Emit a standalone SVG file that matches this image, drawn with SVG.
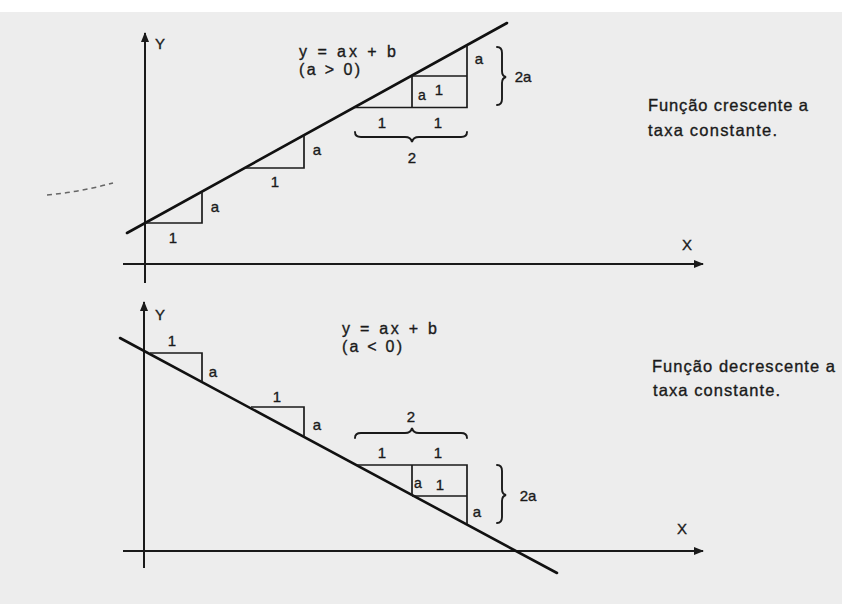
<svg xmlns="http://www.w3.org/2000/svg" width="842" height="604" viewBox="0 0 842 604">
<style>
.ax{stroke:#1a1a1a;stroke-width:2;fill:none}
.ln{stroke:#111;stroke-width:2.6;fill:none;stroke-linecap:round}
.tr{stroke:#1a1a1a;stroke-width:1.7;fill:none}
.br{stroke:#1a1a1a;stroke-width:1.9;fill:none;stroke-linecap:round}
text{font-family:"Liberation Sans",Arial,sans-serif;fill:#1a1a1a;stroke:#1a1a1a;stroke-width:0.35}
.lb{font-size:15px;text-anchor:middle}
.sm{font-size:14px;text-anchor:middle}
.eq{font-size:16px}
.cap{font-size:16.5px}
</style>
<defs>
<marker id="ah" viewBox="0 0 10 10" refX="9" refY="5" markerWidth="5" markerHeight="5" orient="auto" markerUnits="strokeWidth">
<path d="M0,1 L10,5 L0,9 Z" fill="#1a1a1a"/>
</marker>
</defs>
<rect x="0" y="0" width="842" height="604" fill="#ededed"/>
<rect x="0" y="0" width="842" height="12" fill="#ffffff"/>

<g id="top-graph">
  <path d="M47,195 Q80,192 113,183" stroke="#666" stroke-width="1.5" fill="none" stroke-dasharray="5 4"/>
  <line class="ax" x1="145" y1="283" x2="145" y2="33" marker-end="url(#ah)"/>
  <line class="ax" x1="123" y1="264" x2="703" y2="264" marker-end="url(#ah)"/>
  <line class="ln" x1="127" y1="233" x2="507" y2="23"/>
  <path class="tr" d="M145,223 H202 V192"/>
  <path class="tr" d="M245,168 H304 V135"/>
  <path class="tr" d="M355,107.5 H467 V45 M412,107.5 V76 M412,76 H467"/>
  <path class="br" d="M355,132 q0,5 6,5 h44 q6,0 7,5 q1,-5 7,-5 h42 q6,0 6,-5"/>
  <path class="br" d="M497,47 q5,0 5,6 v18 q0,5 4,6 q-4,1 -4,6 v16 q0,6 -5,6"/>
  <text class="lb" x="160" y="49">Y</text>
  <text class="lb" x="687" y="250">X</text>
  <text class="lb" x="215" y="212">a</text>
  <text class="lb" x="173" y="243">1</text>
  <text class="lb" x="317" y="155">a</text>
  <text class="lb" x="275" y="187">1</text>
  <text class="sm" x="422" y="100">a</text>
  <text class="lb" x="439" y="95">1</text>
  <text class="lb" x="479" y="64">a</text>
  <text class="lb" x="382" y="128">1</text>
  <text class="lb" x="438" y="128">1</text>
  <text class="lb" x="412" y="163">2</text>
  <text class="lb" x="523" y="82">2a</text>
  <text class="eq" x="299" y="57" textLength="97" lengthAdjust="spacing">y = ax + b</text>
  <text class="eq" x="299" y="75" textLength="61" lengthAdjust="spacing">(a &gt; 0)</text>
  <text class="cap" x="648" y="111" textLength="160" lengthAdjust="spacing">Função crescente a</text>
  <text class="cap" x="648" y="136" textLength="129" lengthAdjust="spacing">taxa constante.</text>
</g>

<g id="bottom-graph">
  <line class="ax" x1="144" y1="568" x2="144" y2="302" marker-end="url(#ah)"/>
  <line class="ax" x1="123" y1="551" x2="703" y2="551" marker-end="url(#ah)"/>
  <line class="ln" x1="120" y1="338" x2="557" y2="573"/>
  <path class="tr" d="M150,353 H202 V382"/>
  <path class="tr" d="M251,407 H304 V437"/>
  <path class="tr" d="M357,465 H467 V524 M412,465 V496 M412,496 H467"/>
  <path class="br" d="M355,438 q0,-5 6,-5 h44 q6,0 7,-5 q1,5 7,5 h42 q6,0 6,5"/>
  <path class="br" d="M497,465 q5,0 5,6 v18 q0,5 4,6 q-4,1 -4,6 v16 q0,6 -5,6"/>
  <text class="lb" x="160" y="320">Y</text>
  <text class="lb" x="682" y="534">X</text>
  <text class="lb" x="172" y="346">1</text>
  <text class="lb" x="213" y="377">a</text>
  <text class="lb" x="277" y="402">1</text>
  <text class="lb" x="317" y="430">a</text>
  <text class="lb" x="411" y="422">2</text>
  <text class="lb" x="382" y="458">1</text>
  <text class="lb" x="438" y="458">1</text>
  <text class="sm" x="418" y="488">a</text>
  <text class="lb" x="440" y="490">1</text>
  <text class="lb" x="477" y="517">a</text>
  <text class="lb" x="528" y="501">2a</text>
  <text class="eq" x="342" y="334" textLength="95" lengthAdjust="spacing">y = ax + b</text>
  <text class="eq" x="342" y="352" textLength="60" lengthAdjust="spacing">(a &lt; 0)</text>
  <text class="cap" x="652" y="372" textLength="183" lengthAdjust="spacing">Função decrescente a</text>
  <text class="cap" x="653" y="396" textLength="127" lengthAdjust="spacing">taxa constante.</text>
</g>
</svg>
